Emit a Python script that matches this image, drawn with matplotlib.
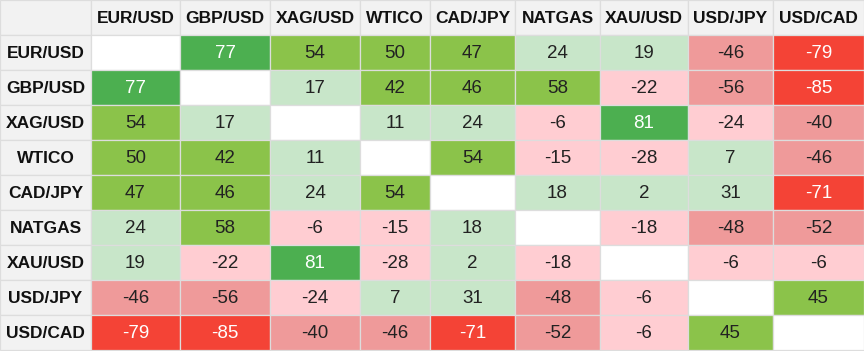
import matplotlib
matplotlib.use("Agg")
import matplotlib.pyplot as plt
from matplotlib.patches import Rectangle
import numpy as np

plt.rcParams['font.family'] = ['Liberation Sans', 'DejaVu Sans']

symbols = ["EUR/USD", "GBP/USD", "XAG/USD", "WTICO", "CAD/JPY",
           "NATGAS", "XAU/USD", "USD/JPY", "USD/CAD"]

# correlation values, None on the diagonal
corr = [
    [None, 77, 54, 50, 47, 24, 19, -46, -79],
    [77, None, 17, 42, 46, 58, -22, -56, -85],
    [54, 17, None, 11, 24, -6, 81, -24, -40],
    [50, 42, 11, None, 54, -15, -28, 7, -46],
    [47, 46, 24, 54, None, 18, 2, 31, -71],
    [24, 58, -6, -15, 18, None, -18, -48, -52],
    [19, -22, 81, -28, 2, -18, None, -6, -6],
    [-46, -56, -24, 7, 31, -48, -6, None, 45],
    [-79, -85, -40, -46, -71, -52, -6, 45, None],
]

# layout (pixels)
col_w = [91, 89, 90, 90, 70, 85, 85, 88, 85, 91]
row_h = 35
W, H = 864, 351

def cell_color(v):
    if v is None:
        return "#ffffff", "#222222"
    a = abs(v)
    if v >= 0:
        if a >= 60:
            return "#4caf50", "#ffffff"
        if a >= 40:
            return "#8bc34a", "#222222"
        return "#c8e6c9", "#222222"
    if a >= 60:
        return "#f44336", "#ffffff"
    if a >= 40:
        return "#ef9a9a", "#222222"
    return "#ffcdd2", "#222222"

fig = plt.figure(figsize=(W / 100, H / 100), dpi=100)
ax = fig.add_axes([0, 0, 1, 1])
ax.set_xlim(0, W)
ax.set_ylim(H, 0)
ax.axis('off')

x_edges = np.concatenate([[0], np.cumsum(col_w)])
grid = "#dddddd"

def draw_cell(c, r, face, text, tcolor, bold=False, size=13.5):
    x0 = x_edges[c]
    w = col_w[c]
    y0 = r * row_h
    ax.add_patch(Rectangle((x0, y0), w, row_h, facecolor=face,
                           edgecolor=grid, linewidth=0.9))
    if text:
        ax.text(x0 + w / 2, y0 + row_h / 2 + 1, text, ha='center', va='center',
                color=tcolor, fontsize=size,
                fontweight='bold' if bold else 'normal')

# header row
draw_cell(0, 0, "#f2f2f2", "", "#111111")
for j, s in enumerate(symbols):
    draw_cell(j + 1, 0, "#f2f2f2", s, "#111111", bold=True, size=12.5)

for i, s in enumerate(symbols):
    draw_cell(0, i + 1, "#f2f2f2", s, "#111111", bold=True, size=12.5)
    for j in range(len(symbols)):
        v = corr[i][j]
        face, tc = cell_color(v)
        draw_cell(j + 1, i + 1, face, "" if v is None else str(v), tc)

fig.savefig("out.png", dpi=100)
